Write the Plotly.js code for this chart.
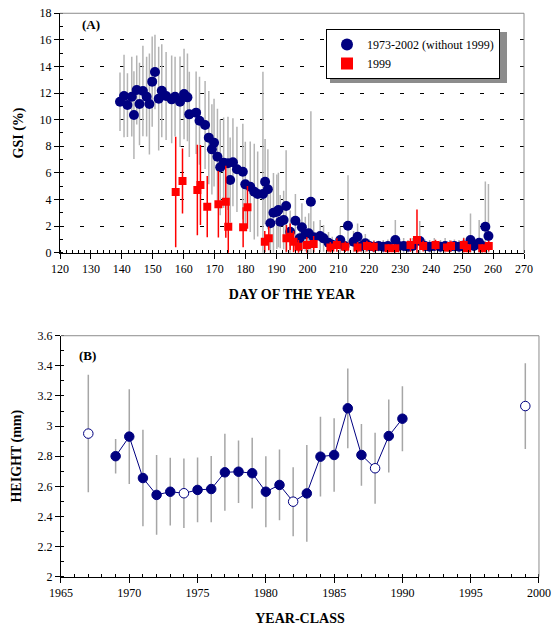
<!DOCTYPE html>
<html>
<head>
<meta charset="utf-8">
<script src="https://cdn.plot.ly/plotly-3.0.1.min.js"></script>
<style>html,body{margin:0;padding:0;background:#fff;}#chart{width:552px;height:626px;}</style>
</head>
<body>
<div id="chart"></div>
<script>
// ---------- Panel A : GSI vs day of the year ----------
const blueDay = [139.4,140.7,141.8,143.2,143.9,144.8,145.7,146.8,148.0,148.9,149.8,150.7,151.9,152.9,154.3,156.1,157.2,158.8,160.1,161.2,161.8,164.0,165.1,166.9,168.1,169.1,169.8,170.9,171.8,172.9,174.3,175.0,175.9,177.2,179.1,179.9,181.5,182.8,183.9,185.6,186.3,187.2,188.0,189.0,190.1,190.6,191.2,192.3,193.1,194.4,196.1,197.5,198.2,199.3,200.4,201.1,202.0,204.1,205.2,206.8,208.0,210.6,212.0,213.1,214.9,216.2,217.5,218.7,220.0,221.5,223.0,224.5,226.0,228.4,229.5,231.1,232.5,234.0,236.3,238.0,239.5,241.0,243.0,244.5,246.0,247.5,249.0,250.5,252.7,253.8,255.5,256.5,257.5,258.5];
const blueGSI = [11.35,11.78,11.1,11.73,10.35,12.23,11.18,12.16,11.73,11.18,12.86,13.59,11.58,12.18,11.78,11.53,11.73,11.35,11.93,11.68,10.4,10.53,9.92,9.6,8.65,7.77,8.27,7.22,6.42,6.77,6.72,5.47,6.8,6.27,6.09,5.14,4.96,4.59,4.41,4.41,5.34,4.77,2.21,3.0,3.08,3.21,2.33,2.46,3.51,1.58,2.41,1.08,1.91,1.41,1.46,3.83,1.16,1.26,1.08,0.75,0.6,0.95,0.5,2.03,0.83,1.2,0.5,0.71,0.5,0.45,0.5,0.45,0.5,0.95,0.5,0.5,0.45,0.5,0.88,0.5,0.45,0.5,0.45,0.5,0.45,0.5,0.45,0.55,0.95,0.5,0.75,0.5,1.95,1.26];
const blueErr = [2.2,3.1,2.4,3.0,3.3,2.6,3.1,3.4,3.0,3.8,3.4,2.8,3.9,3.5,3.3,3.3,3.0,3.4,3.4,3.3,3.2,3.1,3.3,3.3,3.5,3.4,3.3,3.6,3.6,3.4,3.5,3.2,3.3,3.2,3.6,3.2,3.4,3.6,3.2,9.2,3.2,3.0,2.5,3.0,2.8,2.8,2.0,2.2,4.2,1.6,2.0,1.0,1.8,1.3,1.5,6.8,1.2,1.2,1.0,0.8,0.6,1.0,0.5,3.8,0.8,1.0,0.5,0.7,0.5,0.5,0.4,0.5,0.5,1.5,0.5,0.6,0.5,0.6,1.5,0.5,0.5,0.6,0.5,0.6,0.5,0.5,0.5,0.6,2.0,0.6,1.7,0.6,3.4,3.9];

const redDay = [157.4,159.6,164.4,165.4,167.6,171.2,173.6,174.4,179.2,180.6,186.2,187.5,193.2,194.4,195.5,197.1,199.8,202.0,207.4,209.5,212.2,216.2,219.2,221.4,226.2,228.4,233.3,235.4,237.4,241.4,245.1,246.4,250.5,251.6,256.5,258.6];
const redGSI = [4.56,5.39,4.71,5.09,3.46,3.64,3.83,1.95,1.91,3.41,0.83,1.08,1.08,1.2,0.83,0.45,0.58,0.65,0.4,0.58,0.45,0.4,0.5,0.45,0.33,0.33,0.58,0.95,0.5,0.58,0.4,0.5,0.58,0.33,0.33,0.5];
const redErr = [4.15,2.45,3.4,3.0,2.3,2.5,2.7,2.0,1.5,1.6,0.8,0.9,1.0,1.0,0.8,0.5,0.6,0.6,0.4,0.5,0.4,0.4,0.4,0.4,0.3,0.3,0.5,2.3,0.4,0.4,0.3,0.4,0.5,0.3,0.3,0.4];

// ---------- Panel B : height vs year-class ----------
const lineYears = [1969,1970,1971,1972,1973,1974,1975,1976,1977,1978,1979,1980,1981,1982,1983,1984,1985,1986,1987,1988,1989,1990];
const lineHeight = [2.80,2.93,2.655,2.543,2.564,2.554,2.576,2.582,2.693,2.697,2.687,2.564,2.609,2.498,2.553,2.797,2.808,3.118,2.808,2.72,2.934,3.049];
const lineErr = [0.115,0.315,0.32,0.265,0.225,0.23,0.215,0.22,0.256,0.208,0.235,0.236,0.235,0.229,0.321,0.265,0.244,0.265,0.205,0.235,0.242,0.216];
const lineOpen = [false,false,false,false,false,true,false,false,false,false,false,false,false,true,false,false,false,false,false,true,false,false];
const soloYears = [1967,1999];
const soloHeight = [2.95,3.133];
const soloErr = [0.39,0.285];

const navy = '#000080';
const serif = "'Liberation Serif', 'Times New Roman', Times, serif";

const traces = [
  {
    x: blueDay, y: blueGSI, type: 'scatter', mode: 'markers',
    name: '1973-2002 (without 1999)',
    marker: {color: navy, size: 10, symbol: 'circle'},
    error_y: {type: 'data', array: blueErr, visible: true, color: '#b4b4b4', thickness: 1.5, width: 0},
    xaxis: 'x', yaxis: 'y'
  },
  {
    x: redDay, y: redGSI, type: 'scatter', mode: 'markers',
    name: '1999',
    marker: {color: '#ff0000', size: 8, symbol: 'square'},
    error_y: {type: 'data', array: redErr, visible: true, color: '#ff0000', thickness: 1.5, width: 0},
    xaxis: 'x', yaxis: 'y'
  },
  {
    x: lineYears, y: lineHeight, type: 'scatter', mode: 'lines+markers',
    showlegend: false,
    line: {color: navy, width: 1},
    marker: {size: 9.5, color: lineOpen.map(o => o ? '#ffffff' : navy), line: {color: navy, width: 1}},
    error_y: {type: 'data', array: lineErr, visible: true, color: '#a6a6a6', thickness: 1.5, width: 0},
    xaxis: 'x2', yaxis: 'y2'
  },
  {
    x: soloYears, y: soloHeight, type: 'scatter', mode: 'markers',
    showlegend: false,
    marker: {size: 9.5, color: '#ffffff', line: {color: navy, width: 1}},
    error_y: {type: 'data', array: soloErr, visible: true, color: '#a6a6a6', thickness: 1.5, width: 0},
    xaxis: 'x2', yaxis: 'y2'
  }
];

const axisCommon = {
  showline: true, linecolor: '#000', linewidth: 1,
  ticks: 'outside', ticklen: 5, tickcolor: '#000', tickwidth: 1,
  zeroline: false, automargin: false,
  tickfont: {family: serif, size: 12, color: '#000'}
};
const titleFont = {family: serif, size: 14, color: '#000', weight: 'bold'};

const layout = {
  width: 552, height: 626,
  margin: {l: 0, r: 0, t: 0, b: 0},
  paper_bgcolor: '#fff', plot_bgcolor: '#fff',
  font: {family: serif, size: 12, color: '#000'},
  showlegend: true,
  legend: {
    x: 326/552, y: 1 - 29/626, xanchor: 'left', yanchor: 'top',
    bgcolor: '#fff', bordercolor: '#000', borderwidth: 1,
    font: {family: serif, size: 12, color: '#000'},
    itemsizing: 'constant', tracegroupgap: 0
  },
  xaxis: Object.assign({}, axisCommon, {
    domain: [0.1087, 0.9493], range: [120, 270], dtick: 10, tick0: 120,
    showgrid: false, anchor: 'y',
    minor: {dtick: 2, ticks: 'inside', ticklen: 3, tickcolor: '#000', showgrid: false},
    title: {text: 'DAY OF THE YEAR', font: titleFont, standoff: 14}
  }),
  yaxis: Object.assign({}, axisCommon, {
    domain: [0.5963, 0.9788], range: [0, 18], dtick: 2, tick0: 0,
    showgrid: true, gridcolor: '#000', gridwidth: 1, griddash: '4px,16px', anchor: 'x',
    minor: {dtick: 1, ticks: 'inside', ticklen: 3, tickcolor: '#000', showgrid: false},
    title: {text: 'GSI (%)', font: titleFont, standoff: 12}
  }),
  xaxis2: Object.assign({}, axisCommon, {
    domain: [0.1105, 0.9764], range: [1965, 2000], dtick: 5, tick0: 1965,
    showgrid: false, anchor: 'y2',
    minor: {dtick: 1, ticks: 'inside', ticklen: 3, tickcolor: '#000', showgrid: false},
    title: {text: 'YEAR-CLASS', font: titleFont, standoff: 14}
  }),
  yaxis2: Object.assign({}, axisCommon, {
    domain: [0.0788, 0.4637], range: [2, 3.6], dtick: 0.2, tick0: 2,
    showgrid: false, anchor: 'x2',
    minor: {dtick: 0.1, ticks: 'inside', ticklen: 3, tickcolor: '#000', showgrid: false},
    title: {text: 'HEIGHT (mm)', font: titleFont, standoff: 12}
  }),
  shapes: [
    {type: 'line', xref: 'x domain', yref: 'y domain', x0: 0, x1: 1, y0: 1, y1: 1, line: {color: '#8c8c8c', width: 1}, layer: 'above'},
    {type: 'line', xref: 'x domain', yref: 'y domain', x0: 1, x1: 1, y0: 0, y1: 1, line: {color: '#8c8c8c', width: 1}, layer: 'above'},
    {type: 'line', xref: 'x2 domain', yref: 'y2 domain', x0: 0, x1: 1, y0: 1, y1: 1, line: {color: '#8c8c8c', width: 1}, layer: 'above'},
    {type: 'line', xref: 'x2 domain', yref: 'y2 domain', x0: 1, x1: 1, y0: 0, y1: 1, line: {color: '#8c8c8c', width: 1}, layer: 'above'},
    // legend drop shadow (sits just behind the legend box, offset down-right)
    {type: 'rect', xref: 'paper', yref: 'paper', x0: 330/552, x1: 507/552, y0: 1 - 83/626, y1: 1 - 32/626, fillcolor: '#8c8c8c', line: {width: 0}, layer: 'above'}
  ],
  annotations: [
    {text: '(A)', xref: 'paper', yref: 'paper', x: 80/552, y: 1 - 24/626, xanchor: 'left', yanchor: 'middle', showarrow: false, font: {family: serif, size: 13, color: '#000', weight: 'bold'}},
    {text: '(B)', xref: 'paper', yref: 'paper', x: 77/552, y: 1 - 355/626, xanchor: 'left', yanchor: 'middle', showarrow: false, font: {family: serif, size: 13, color: '#000', weight: 'bold'}}
  ]
};

Plotly.newPlot('chart', traces, layout, {displayModeBar: false, staticPlot: true});
</script>
</body>
</html>
